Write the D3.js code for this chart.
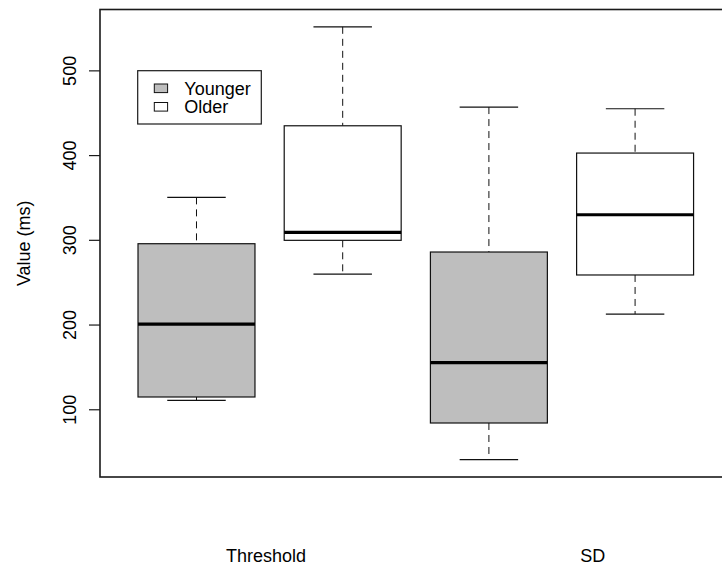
<!DOCTYPE html>
<html>
<head>
<meta charset="utf-8">
<script src="https://cdn.jsdelivr.net/npm/d3@7"></script>
<style>
    html, body { margin: 0; padding: 0; background: #fff; }
    svg { display: block; font-family: "Liberation Sans", Arial, sans-serif; }
</style>
</head>
<body>
<div id="chart"></div>
<script>
(function () {
    // five-number summaries, one box each (order: Threshold Y/O, SD Y/O)
    const groups = ['Younger', 'Older', 'Younger', 'Older'];
    const lowerWhisker = [110.6, 259.6, 40.5, 212.4];
    const lowerQuartile = [114.5, 299.4, 83.8, 258.5];
    const medians = [200.6, 308.9, 155.0, 329.6];
    const upperQuartile = [295.4, 434.6, 285.6, 402.4];
    const upperWhisker = [350.1, 551.4, 456.7, 454.7];

    const categories = ['Threshold', 'SD'];
    const categoryAt = [1.475, 3.71];
    const yTicks = [100, 200, 300, 400, 500];

    const legendLabels = ['Younger', 'Older'];
    const fills = { Younger: '#bebebe', Older: '#ffffff' };

    const width = 722, height = 567;
    const [left, top, bottom] = [100, 9.5, 477];
    const unit = 146.2;

    let boxes = groups.map((g, i) => ({
        group: g,
        at: i + 1,
        lo: lowerWhisker[i],
        q1: lowerQuartile[i],
        med: medians[i],
        q3: upperQuartile[i],
        hi: upperWhisker[i],
    }));

    let svg = d3.select('#chart')
                .append('svg')
                .attr('width', width)
                .attr('height', height)
                .attr('viewBox', `0 0 ${width} ${height}`);

    // R style limits: n boxes +/- 0.5, padded 4%
    let n = boxes.length;
    let xPad = (n) * 0.04;
    let x = d3.scaleLinear()
              .domain([0.5 - xPad, n + 0.5 + xPad])
              .range([left, left + (n + 2 * xPad) * unit]);

    let lo = d3.min(lowerWhisker), hi = d3.max(upperWhisker);
    let yPad = (hi - lo) * 0.04;
    let y = d3.scaleLinear()
              .domain([lo - yPad, hi + yPad])
              .range([bottom, top]);

    let boxW = 0.8 * unit;
    let capW = boxW / 2;

    let g = svg.selectAll('g.box')
               .data(boxes)
               .enter()
               .append('g')
               .attr('class', 'box');

    // whiskers
    g.append('line')
     .attr('x1', d => x(d.at)).attr('x2', d => x(d.at))
     .attr('y1', d => y(d.hi)).attr('y2', d => y(d.q3))
     .attr('stroke', '#111').attr('stroke-width', 1)
     .attr('stroke-dasharray', '7,5');
    g.append('line')
     .attr('x1', d => x(d.at)).attr('x2', d => x(d.at))
     .attr('y1', d => y(d.q1)).attr('y2', d => y(d.lo))
     .attr('stroke', '#111').attr('stroke-width', 1)
     .attr('stroke-dasharray', '7,5');

    // staples
    for (let key of ['hi', 'lo']) {
        g.append('line')
         .attr('x1', d => x(d.at) - capW / 2).attr('x2', d => x(d.at) + capW / 2)
         .attr('y1', d => y(d[key])).attr('y2', d => y(d[key]))
         .attr('stroke', '#111').attr('stroke-width', 1.2);
    }

    g.append('rect')
     .attr('x', d => x(d.at) - boxW / 2)
     .attr('y', d => y(d.q3))
     .attr('width', boxW)
     .attr('height', d => y(d.q1) - y(d.q3))
     .attr('fill', d => fills[d.group])
     .attr('stroke', '#111')
     .attr('stroke-width', 1.2);

    g.append('line')
     .attr('x1', d => x(d.at) - boxW / 2).attr('x2', d => x(d.at) + boxW / 2)
     .attr('y1', d => y(d.med)).attr('y2', d => y(d.med))
     .attr('stroke', '#000').attr('stroke-width', 3.2);

    // frame
    svg.append('rect')
       .attr('x', x.range()[0])
       .attr('y', top)
       .attr('width', x.range()[1] - x.range()[0])
       .attr('height', bottom - top)
       .attr('fill', 'none')
       .attr('stroke', '#1a1a1a')
       .attr('stroke-width', 1.6);

    // y axis
    let yAxis = svg.append('g')
                   .attr('transform', `translate(${left}, 0)`)
                   .call(d3.axisLeft(y).tickValues(yTicks).tickSize(11).tickFormat(d3.format('d')));
    yAxis.select('.domain').remove();
    yAxis.selectAll('line').attr('stroke', '#1a1a1a').attr('stroke-width', 1.2);
    yAxis.selectAll('text')
         .attr('x', 0)
         .attr('y', -24)
         .attr('dy', 0)
         .attr('transform', 'rotate(-90)')
         .style('text-anchor', 'middle')
         .attr('font-size', '18px')
         .attr('font-family', '"Liberation Sans", Arial, sans-serif')
         .attr('fill', '#000');

    svg.append('text')
       .attr('transform', `translate(30, ${(top + bottom) / 2}) rotate(-90)`)
       .attr('text-anchor', 'middle')
       .attr('font-size', '18px')
       .text('Value (ms)');

    // category labels
    svg.selectAll('text.cat')
       .data(categories)
       .enter()
       .append('text')
       .attr('class', 'cat')
       .attr('x', (d, i) => x(categoryAt[i]))
       .attr('y', 561.5)
       .attr('text-anchor', 'middle')
       .attr('font-size', '18px')
       .text(d => d);

    // legend
    let legend = svg.append('g').attr('transform', 'translate(137.7, 70.7)');
    legend.append('rect')
          .attr('width', 123.6)
          .attr('height', 53.3)
          .attr('fill', '#fff')
          .attr('stroke', '#1a1a1a')
          .attr('stroke-width', 1.2);
    let item = legend.selectAll('g.item')
                     .data(legendLabels)
                     .enter()
                     .append('g')
                     .attr('class', 'item')
                     .attr('transform', (d, i) => `translate(0, ${i * 18.5})`);
    item.append('rect')
        .attr('x', 16.6)
        .attr('y', 13.3)
        .attr('width', 13.3)
        .attr('height', 8.6)
        .attr('fill', d => fills[d])
        .attr('stroke', '#111')
        .attr('stroke-width', 1);
    item.append('text')
        .attr('x', 46.6)
        .attr('y', 24.3)
        .attr('font-size', '18px')
        .text(d => d);
})();
</script>
</body>
</html>
